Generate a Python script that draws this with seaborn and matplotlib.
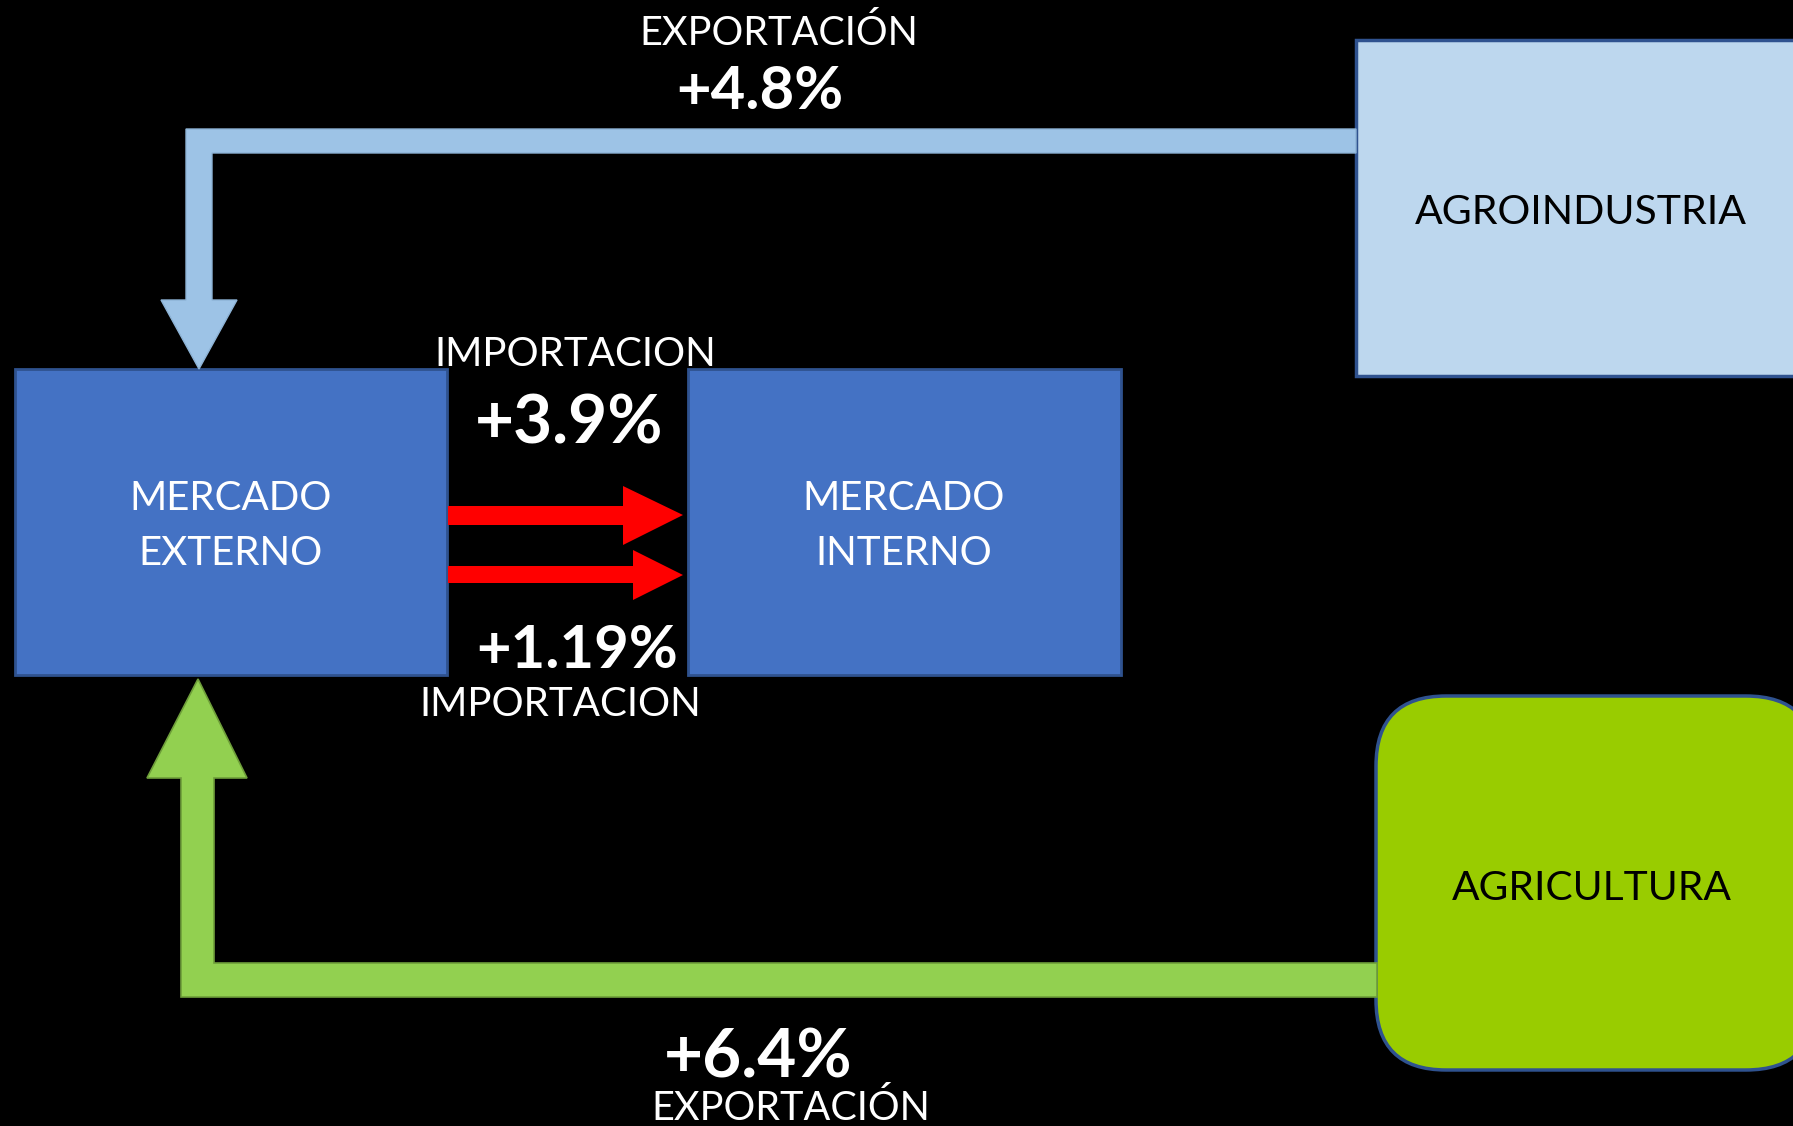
import matplotlib
matplotlib.use("Agg")
import matplotlib.pyplot as plt
import seaborn as sns
from matplotlib.patches import Rectangle, Polygon, FancyBboxPatch

# ---- data ----
node_labels = ["MERCADO\nEXTERNO", "MERCADO\nINTERNO", "AGROINDUSTRIA", "AGRICULTURA"]
flow_kinds = ["EXPORTACIÓN", "IMPORTACION", "IMPORTACION", "EXPORTACIÓN"]
flow_values = ["+4.8%", "+3.9%", "+1.19%", "+6.4%"]

sns.set_theme(style="white")
plt.rcParams['font.family'] = ['Lato', 'DejaVu Sans']

W, H = 1793, 1126
fig = plt.figure(figsize=(W / 100, H / 100), dpi=100, facecolor="black")
ax = fig.add_axes([0, 0, 1, 1])
ax.set_facecolor("black")
ax.set_xlim(0, W)
ax.set_ylim(H, 0)
ax.axis("off")

edge = "#2F528F"
# boxes
ax.add_patch(Rectangle((15, 369), 432, 306, facecolor="#4472C4", edgecolor=edge, lw=2))
ax.add_patch(Rectangle((688, 369), 433, 306, facecolor="#4472C4", edgecolor=edge, lw=2))
ax.add_patch(Rectangle((1356, 40), 460, 336, facecolor="#BDD7EE", edgecolor=edge, lw=2.5))
ax.add_patch(FancyBboxPatch((1376 + 70, 696 + 70), 440 - 140, 374 - 140,
                            boxstyle="round,pad=70", facecolor="#99CC00",
                            edgecolor=edge, lw=2.5))

# blue export arrow (agroindustria -> mercado externo)
blue = [(1356, 129), (186, 129), (186, 300), (161, 300), (199, 369),
        (237, 300), (212, 300), (212, 153), (1356, 153)]
ax.add_patch(Polygon(blue, closed=True, facecolor="#9DC3E6", edgecolor="#8DB3D6", lw=1))

# green export arrow (agricultura -> mercado externo)
green = [(1377, 997), (181, 997), (181, 778), (147, 778), (198, 679),
         (247, 778), (214, 778), (214, 963), (1377, 963)]
ax.add_patch(Polygon(green, closed=True, facecolor="#92D050", edgecolor="#6E9E3A", lw=1.2))

# red import arrows
red1 = [(448, 506), (623, 506), (623, 486), (683, 515), (623, 545), (623, 525), (448, 525)]
red2 = [(448, 566), (633, 566), (633, 550), (683, 575), (633, 600), (633, 583), (448, 583)]
ax.add_patch(Polygon(red1, closed=True, facecolor="#FF0000", edgecolor="none"))
ax.add_patch(Polygon(red2, closed=True, facecolor="#FF0000", edgecolor="none"))

# node labels
ax.text(231, 526, node_labels[0], color="white", fontsize=29, ha="center", va="center",
        linespacing=1.57)
ax.text(904, 526, node_labels[1], color="white", fontsize=29, ha="center", va="center",
        linespacing=1.57)
ax.text(1581, 213, node_labels[2], color="black", fontsize=29.5, ha="center", va="center")
ax.text(1592, 888, node_labels[3], color="black", fontsize=29.3, ha="center", va="center")

# flow labels
ax.text(779, 33, flow_kinds[0], color="white", fontsize=28.5, ha="center", va="center")
ax.text(760, 92, flow_values[0], color="white", fontsize=43, fontweight="bold", ha="center", va="center")
ax.text(575, 355, flow_kinds[1], color="white", fontsize=29, ha="center", va="center")
ax.text(569, 425, flow_values[1], color="white", fontsize=48.5, fontweight="bold", ha="center", va="center")
ax.text(577, 651, flow_values[2], color="white", fontsize=43, fontweight="bold", ha="center", va="center")
ax.text(560, 705, flow_kinds[2], color="white", fontsize=29, ha="center", va="center")
ax.text(758, 1058, flow_values[3], color="white", fontsize=48.5, fontweight="bold", ha="center", va="center")
ax.text(791, 1108, flow_kinds[3], color="white", fontsize=28.5, ha="center", va="center")

fig.savefig("out.png", dpi=100, facecolor="black")
